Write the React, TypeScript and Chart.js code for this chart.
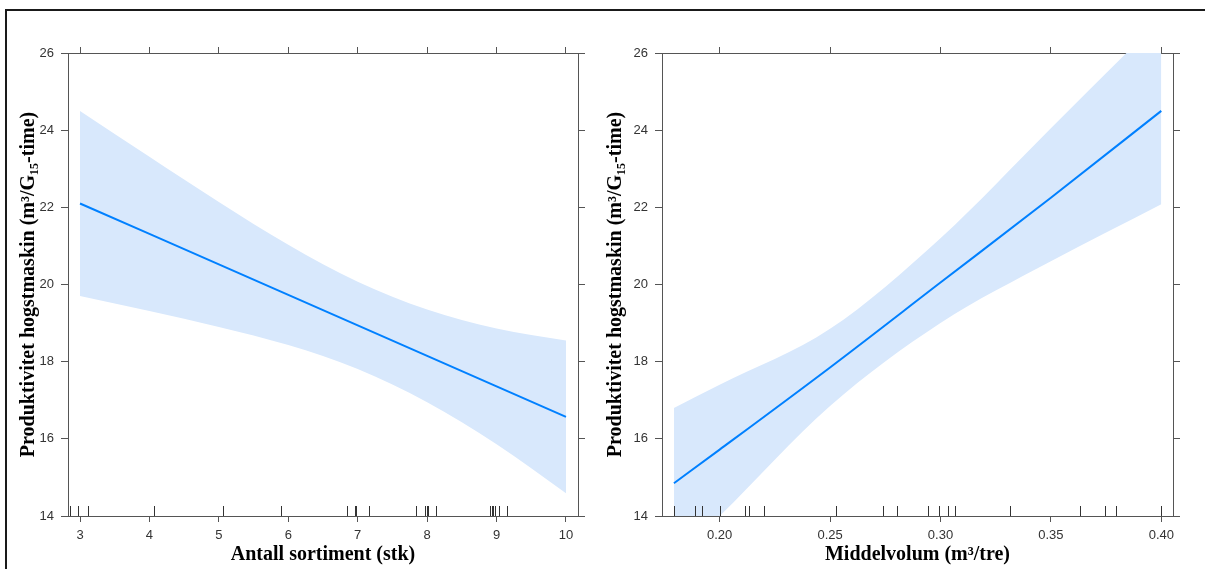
import React, { useEffect, useRef } from 'react';
import { Chart, registerables } from 'chart.js';
Chart.register(...registerables);

// ---------- data ----------
const Y_TICKS = [14, 16, 18, 20, 22, 24, 26];

const LEFT_X = [3, 4, 5, 6, 7, 8, 9, 10];
const LEFT_FIT = [22.1, 21.31, 20.52, 19.73, 18.94, 18.15, 17.36, 16.57];
const LEFT_UPPER = [24.5, 23.31, 22.14, 21.03, 20.07, 19.35, 18.86, 18.55];
const LEFT_LOWER = [19.7, 19.31, 18.9, 18.43, 17.81, 16.95, 15.86, 14.59];
const LEFT_RUG = [2.86, 2.97, 3.11, 4.06, 5.06, 5.89, 6.85, 6.96, 6.98, 7.16, 7.84, 7.97, 8.0, 8.01, 8.13, 8.9, 8.93, 8.95, 8.98, 9.04, 9.15];
const LEFT_XTICKS = [3, 4, 5, 6, 7, 8, 9, 10];

const RIGHT_X = [0.1793, 0.2, 0.25, 0.3, 0.35, 0.4];
const RIGHT_FIT = [14.85, 15.72, 17.85, 20.05, 22.25, 24.5];
const RIGHT_UPPER = [16.8, 17.4, 18.85, 21.2, 24.05, 26.9];
const RIGHT_LOWER = [12.9, 14.0, 16.85, 19.0, 20.6, 22.08];
const RIGHT_RUG = [0.1793, 0.189, 0.1922, 0.2, 0.2115, 0.2133, 0.2199, 0.2528, 0.2741, 0.2801, 0.2943, 0.2995, 0.3032, 0.3064, 0.3316, 0.3631, 0.3743, 0.3794, 0.4];
const RIGHT_XTICKS = [0.2, 0.25, 0.3, 0.35, 0.4];

const Y_TITLE = 'Produktivitet hogstmaskin (m³/G₁₅-time)';
const LEFT_X_TITLE = 'Antall sortiment (stk)';
const RIGHT_X_TITLE = 'Middelvolum (m³/tre)';

// ---------- styles ----------
const AXIS = '#555555';
const BAND = '#d8e8fc';
const LINE = 'rgb(0,128,255)';
const TICK_FONT = { family: "'Liberation Sans', Arial, sans-serif", size: 13 };
const TITLE_FONT = { family: "'Liberation Serif', 'Times New Roman', serif", size: 20, weight: 'bold' as const };

const rugPlugin = {
  id: 'rug',
  afterDatasetsDraw(chart: any, _args: any, opts: any) {
    const values: number[] = opts.values || [];
    const xs = chart.scales.x;
    const { bottom } = chart.chartArea;
    const ctx = chart.ctx;
    ctx.save();
    ctx.strokeStyle = '#333';
    ctx.lineWidth = 1;
    values.forEach((v) => {
      const px = Math.round(xs.getPixelForValue(v)) + 0.5;
      ctx.beginPath();
      ctx.moveTo(px, bottom);
      ctx.lineTo(px, bottom - 10);
      ctx.stroke();
    });
    ctx.restore();
  },
};

type PanelProps = {
  left: number;
  width: number;
  xs: number[];
  fit: number[];
  upper: number[];
  lower: number[];
  rug: number[];
  xTicks: number[];
  xMin: number;
  xMax: number;
  decimals: number;
  xTitle: string;
  leftW: number;
  rightW: number;
  yTitlePad: number;
};

function Panel(p: PanelProps) {
  const ref = useRef<HTMLCanvasElement>(null);
  useEffect(() => {
    if (!ref.current) return;
    const pts = (arr: number[]) => p.xs.map((x, i) => ({ x, y: arr[i] }));
    const setTicks = (vals: number[]) => (scale: any) => {
      scale.ticks = vals.map((v) => ({ value: v }));
    };
    const grid = { display: true, drawOnChartArea: false, drawTicks: true, color: AXIS, lineWidth: 1 };
    const border = { display: true, color: AXIS, width: 1 };
    const chart = new Chart(ref.current, {
      type: 'line',
      data: {
        datasets: [
          {
            data: pts(p.fit),
            borderColor: LINE,
            borderWidth: 2,
            pointRadius: 0,
            fill: false,
            order: 0,
            cubicInterpolationMode: 'monotone',
          },
          {
            data: pts(p.upper),
            borderWidth: 0,
            borderColor: 'rgba(0,0,0,0)',
            backgroundColor: BAND,
            pointRadius: 0,
            fill: '+1',
            order: 1,
            cubicInterpolationMode: 'monotone',
          },
          {
            data: pts(p.lower),
            borderWidth: 0,
            borderColor: 'rgba(0,0,0,0)',
            pointRadius: 0,
            fill: false,
            order: 2,
            cubicInterpolationMode: 'monotone',
          },
        ],
      } as any,
      options: {
        responsive: false,
        animation: false,
        devicePixelRatio: 1,
        layout: { padding: 0 },
        plugins: {
          legend: { display: false },
          tooltip: { enabled: false },
          rug: { values: p.rug },
        } as any,
        scales: {
          x: {
            type: 'linear',
            position: 'bottom',
            min: p.xMin,
            max: p.xMax,
            bounds: 'data',
            afterBuildTicks: setTicks(p.xTicks),
            afterFit: (s: any) => { s.height = 53; },
            grid: { ...grid, tickLength: 6 },
            border,
            ticks: {
              autoSkip: false,
              maxRotation: 0,
              padding: 6,
              color: '#333',
              font: TICK_FONT,
              callback: (v: any) => Number(v).toFixed(p.decimals),
            },
            title: {
              display: true,
              text: p.xTitle,
              color: '#000',
              font: TITLE_FONT,
              padding: { top: 0, bottom: 2 },
            },
          },
          x2: {
            type: 'linear',
            position: 'top',
            min: p.xMin,
            max: p.xMax,
            bounds: 'data',
            afterBuildTicks: setTicks(p.xTicks),
            afterFit: (s: any) => { s.height = 53; },
            grid: { ...grid, tickLength: 6 },
            border,
            ticks: { display: false },
          },
          y: {
            type: 'linear',
            position: 'left',
            min: 14,
            max: 26,
            bounds: 'data',
            afterBuildTicks: setTicks(Y_TICKS),
            afterFit: (s: any) => { s.width = p.leftW; },
            grid: { ...grid, tickLength: 7 },
            border,
            ticks: { padding: 7, color: '#333', font: TICK_FONT },
            title: {
              display: true,
              text: Y_TITLE,
              color: '#000',
              font: TITLE_FONT,
              padding: { top: p.yTitlePad, bottom: 0 },
            },
          },
          y2: {
            type: 'linear',
            position: 'right',
            min: 14,
            max: 26,
            bounds: 'data',
            afterBuildTicks: setTicks(Y_TICKS),
            afterFit: (s: any) => { s.width = p.rightW; },
            grid: { ...grid, tickLength: 7 },
            border,
            ticks: { display: false },
          },
        },
      } as any,
      plugins: [rugPlugin],
    });
    return () => chart.destroy();
  }, []);
  return (
    <canvas
      ref={ref}
      width={p.width}
      height={569}
      style={{ position: 'absolute', left: p.left, top: 0, width: p.width, height: 569 }}
    />
  );
}

export default function App() {
  return (
    <div style={{ position: 'absolute', left: 0, top: 0, width: 1205, height: 569, overflow: 'hidden', background: '#fff' }}>
      <div
        style={{
          position: 'absolute',
          left: 5,
          top: 9,
          width: 1400,
          height: 800,
          borderTop: '2px solid #1a1a1a',
          borderLeft: '2px solid #1a1a1a',
        }}
      />
      <Panel
        left={0}
        width={600}
        xs={LEFT_X}
        fit={LEFT_FIT}
        upper={LEFT_UPPER}
        lower={LEFT_LOWER}
        rug={LEFT_RUG}
        xTicks={LEFT_XTICKS}
        xMin={2.827}
        xMax={10.173}
        decimals={0}
        xTitle={LEFT_X_TITLE}
        leftW={68}
        rightW={22}
        yTitlePad={17}
      />
      <Panel
        left={600}
        width={605}
        xs={RIGHT_X}
        fit={RIGHT_FIT}
        upper={RIGHT_UPPER}
        lower={RIGHT_LOWER}
        rug={RIGHT_RUG}
        xTicks={RIGHT_XTICKS}
        xMin={0.1739}
        xMax={0.4053}
        decimals={2}
        xTitle={RIGHT_X_TITLE}
        leftW={62}
        rightW={32}
        yTitlePad={4}
      />
    </div>
  );
}
